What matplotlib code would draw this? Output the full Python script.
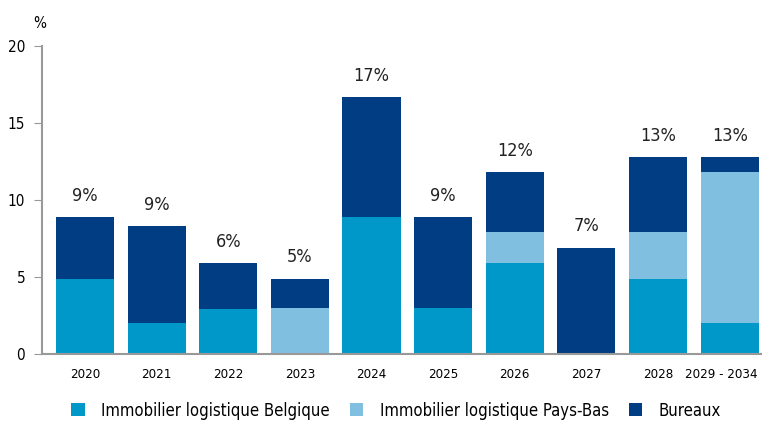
import numpy as np
import matplotlib.pyplot as plt
import matplotlib.transforms as mtransforms

plt.rcParams['font.family'] = ['DejaVu Sans']
plt.rcParams['font.stretch'] = 'condensed'

# échéances par année (en % du total)
annees = ['2020', '2021', '2022', '2023', '2024', '2025', '2026', '2027', '2028', '2029 - 2034']
belgique = [4.9, 2.0, 2.9, 0.0, 8.9, 3.0, 5.9, 0.1, 4.9, 2.0]
pays_bas = [0.0, 0.0, 0.0, 3.0, 0.0, 0.0, 2.0, 0.0, 3.0, 9.8]
bureaux = [4.0, 6.3, 3.0, 1.9, 7.8, 5.9, 3.9, 6.8, 4.9, 1.0]
etiquettes = ['9%', '9%', '6%', '5%', '17%', '9%', '12%', '7%', '13%', '13%']

COL_BE = '#0098c9'
COL_NL = '#80bfdf'
COL_BUR = '#003d82'

fig = plt.figure(figsize=(7.62, 4.22), dpi=100)
ax = fig.add_axes([0.055, 0.161, 0.945, 0.730])

x = np.arange(len(annees))
be = np.array(belgique)
nl = np.array(pays_bas)
bu = np.array(bureaux)
w = 0.81

ax.bar(x, be, w, color=COL_BE, label='Immobilier logistique Belgique')
ax.bar(x, nl, w, bottom=be, color=COL_NL, label='Immobilier logistique Pays-Bas')
ax.bar(x, bu, w, bottom=be + nl, color=COL_BUR, label='Bureaux')

total = be + nl + bu
for xi, t, lab in zip(x, total, etiquettes):
    ax.text(xi, t + 0.8, lab, ha='center', va='bottom', fontsize=13, color='#222222')

ax.set_xlim(-0.6, 9.45)
ax.set_ylim(0, 20)
ax.set_yticks([0, 5, 10, 15, 20])
ax.set_xticks(x)
ax.set_xticklabels(annees)

for s in ['top', 'right']:
    ax.spines[s].set_visible(False)
for s in ['left', 'bottom']:
    ax.spines[s].set_color('#999999')
    ax.spines[s].set_linewidth(1.5)

ax.tick_params(axis='y', length=6, color='#999999', labelsize=11, pad=6)
ax.tick_params(axis='x', length=0, labelsize=9.5, pad=10)

# le dernier libellé est large : on le décale un peu vers la gauche
dernier = ax.get_xticklabels()[-1]
dernier.set_transform(dernier.get_transform() +
                      mtransforms.ScaledTranslation(-6 / 72, 0, fig.dpi_scale_trans))

ax.text(-0.003, 1.05, '%', transform=ax.transAxes, ha='center', va='bottom', fontsize=11)

fig.legend(loc='lower center', bbox_to_anchor=(0.52, -0.03), ncol=3, frameon=False,
           fontsize=12, handlelength=0.8, handleheight=0.8, columnspacing=1.2, handletextpad=1.0)

fig.savefig('out.png', dpi=100)
